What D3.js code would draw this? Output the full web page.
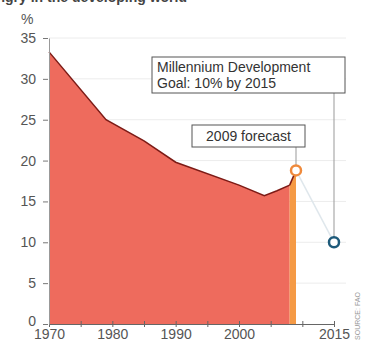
<!DOCTYPE html>
<html>
  <head>
    <meta charset="utf-8">
    <style>
      body { margin: 0; background: #fff; }
      text { font-family: "Liberation Sans", Arial, sans-serif; }
    </style>
  </head>
  <body>
    <svg id="chart" width="366" height="349"></svg>
    <script src="https://d3js.org/d3.v7.min.js"></script>
    <script>
      // hunger share of population, developing world
      years = [1970, 1979, 1985, 1990, 2000, 2004, 2006, 2008]
      values = [33.3, 25.0, 22.4, 19.8, 17.0, 15.7, 16.3, 17.0]
      forecastYears = [2008, 2009]
      forecastValues = [17.0, 18.8]
      goal = { year: 2015, value: 10 }
      yTicks = [0, 5, 10, 15, 20, 25, 30, 35]
      xTicks = [1970, 1975, 1980, 1985, 1990, 1995, 2000, 2005, 2010, 2015]
      xLabels = [1970, 1980, 1990, 2000, 2015]

      width = 366
      height = 349
      margin = {top: 38, right: 35, bottom: 25, left: 49}

      xScale = d3.scaleLinear()
        .domain([1970, 2015])
        .range([margin.left, width - margin.right + 3])
      yScale = d3.scaleLinear()
        .domain([0, 35])
        .range([height - margin.bottom, margin.top])

      const svg = d3.select('#chart')

      // title, cut off at the top of the crop
      svg.append('text')
        .attr('x', 187).attr('y', 2).attr('text-anchor', 'end')
        .attr('font-size', 14).attr('font-weight', 'bold').attr('fill', '#444')
        .text('Share of hungry in the developing world')

      // faint gridlines
      svg.append('g')
        .selectAll('line')
        .data(yTicks.filter(d => d > 0))
        .join('line')
          .attr('x1', margin.left).attr('x2', 346)
          .attr('y1', d => yScale(d)).attr('y2', d => yScale(d))
          .attr('stroke', '#ececec')

      const pts = years.map((y, i) => [y, values[i]])
      const fpts = forecastYears.map((y, i) => [y, forecastValues[i]])

      const area = d3.area()
        .x(d => xScale(d[0]))
        .y0(yScale(0))
        .y1(d => yScale(d[1]))
      const line = d3.line()
        .x(d => xScale(d[0]))
        .y(d => yScale(d[1]))

      svg.append('path').datum(pts).attr('d', area).attr('fill', '#ee6b5d')
      svg.append('path').datum(fpts).attr('d', area).attr('fill', '#f59a45')
      svg.append('path').datum(pts).attr('d', line)
        .attr('fill', 'none').attr('stroke', '#7d1b16').attr('stroke-width', 1.5)
      svg.append('path').datum(fpts).attr('d', line)
        .attr('fill', 'none').attr('stroke', '#7d1b16').attr('stroke-width', 1.5)

      // faint path toward the goal
      const last = fpts[fpts.length - 1]
      svg.append('line')
        .attr('x1', xScale(last[0])).attr('y1', yScale(last[1]))
        .attr('x2', xScale(goal.year)).attr('y2', yScale(goal.value))
        .attr('stroke', '#dfe7ec').attr('stroke-width', 1.5)

      // axes
      const xAxis = d3.axisBottom(xScale)
        .tickValues(xTicks)
        .tickSize(4)
        .tickSizeOuter(0)
        .tickFormat(d => xLabels.includes(d) ? d : '')
      const gx = svg.append('g')
        .attr('transform', `translate(0,${yScale(0)})`)
        .call(xAxis)
      gx.select('.domain').attr('stroke', '#666')
      gx.selectAll('.tick line').attr('stroke', '#666').attr('y1', -3).attr('y2', 3)
      gx.selectAll('.tick text')
        .attr('font-size', 14).attr('fill', '#555').attr('y', 5).attr('dy', '0.71em')
        .style('font-family', '"Liberation Sans", Arial, sans-serif')

      const yAxis = d3.axisLeft(yScale)
        .tickValues(yTicks)
        .tickSize(6)
        .tickSizeOuter(0)
      const gy = svg.append('g')
        .attr('transform', `translate(${margin.left},0)`)
        .call(yAxis)
      gy.select('.domain').attr('stroke', '#999')
      gy.selectAll('.tick line').attr('stroke', '#777').attr('x2', -6).attr('x1', -1)
      gy.selectAll('.tick text')
        .attr('font-size', 14).attr('fill', '#555').attr('x', -13)
        .style('font-family', '"Liberation Sans", Arial, sans-serif')
      gy.selectAll('.tick').filter(d => d === 0).select('text').attr('dy', '0.1em')

      svg.append('text')
        .attr('x', 21).attr('y', 24)
        .attr('font-size', 14).attr('fill', '#555')
        .text('%')

      // annotations
      const gxp = xScale(goal.year), gyp = yScale(goal.value)
      svg.append('line')
        .attr('x1', gxp).attr('x2', gxp).attr('y1', 93).attr('y2', gyp)
        .attr('stroke', '#999')
      svg.append('rect')
        .attr('x', 152).attr('y', 57).attr('width', 193).attr('height', 36)
        .attr('fill', '#fff').attr('stroke', '#555')
      svg.append('text')
        .attr('x', 157).attr('y', 72)
        .attr('font-size', 14).attr('fill', '#333')
        .text('Millennium Development')
      svg.append('text')
        .attr('x', 157).attr('y', 88)
        .attr('font-size', 14).attr('fill', '#333')
        .text('Goal: 10% by 2015')

      const fx = xScale(last[0]), fy = yScale(last[1])
      svg.append('line')
        .attr('x1', fx).attr('x2', fx).attr('y1', 147).attr('y2', fy)
        .attr('stroke', '#999')
      svg.append('rect')
        .attr('x', 192).attr('y', 125).attr('width', 113).attr('height', 22)
        .attr('fill', '#fff').attr('stroke', '#555')
      svg.append('text')
        .attr('x', 248.5).attr('y', 141).attr('text-anchor', 'middle')
        .attr('font-size', 14).attr('fill', '#333')
        .text('2009 forecast')

      svg.append('circle')
        .attr('cx', fx).attr('cy', fy).attr('r', 5)
        .attr('fill', '#fff').attr('stroke', '#ef8a3c').attr('stroke-width', 2.5)
      svg.append('circle')
        .attr('cx', gxp).attr('cy', gyp).attr('r', 5)
        .attr('fill', '#fff').attr('stroke', '#1e5a7a').attr('stroke-width', 2.5)

      svg.append('text')
        .attr('transform', 'translate(360,316) rotate(-90)')
        .attr('text-anchor', 'middle')
        .attr('font-size', 7).attr('fill', '#999')
        .text('SOURCE: FAO')
    </script>
  </body>
</html>
